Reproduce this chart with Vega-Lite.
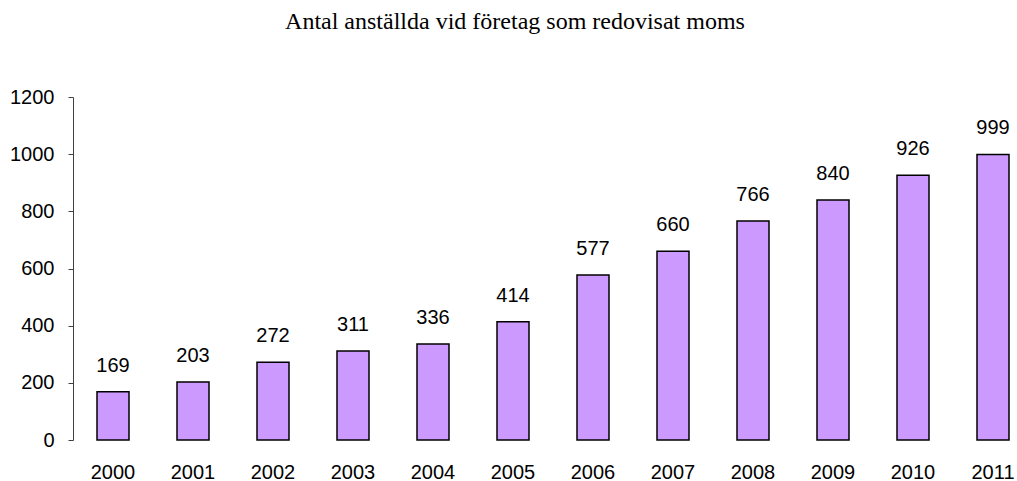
{
  "$schema": "https://vega.github.io/schema/vega-lite/v6.json",
  "width": 944,
  "height": 343,
  "autosize": {"type": "none"},
  "padding": {"left": 73, "top": 97, "right": 0, "bottom": 41},
  "background": "white",
  "config": {"view": {"stroke": null}},
  "title": {
    "text": "Antal anställda vid företag som redovisat moms",
    "font": "Liberation Serif",
    "fontSize": 24,
    "fontWeight": "normal",
    "color": "black",
    "anchor": "middle",
    "baseline": "alphabetic",
    "limit": 0,
    "dx": -30,
    "offset": 34
  },
  "data": {
    "values": [
      {"year": "2000", "value": 169},
      {"year": "2001", "value": 203},
      {"year": "2002", "value": 272},
      {"year": "2003", "value": 311},
      {"year": "2004", "value": 336},
      {"year": "2005", "value": 414},
      {"year": "2006", "value": 577},
      {"year": "2007", "value": 660},
      {"year": "2008", "value": 766},
      {"year": "2009", "value": 840},
      {"year": "2010", "value": 926},
      {"year": "2011", "value": 999}
    ]
  },
  "encoding": {
    "x": {
      "field": "year",
      "type": "ordinal",
      "scale": {"paddingInner": 0.6, "paddingOuter": 0.2, "align": 0.75},
      "axis": {
        "title": null,
        "domain": false,
        "ticks": false,
        "labelAngle": 0,
        "labelFont": "Liberation Sans",
        "labelFontSize": 20,
        "labelColor": "black",
        "labelPadding": 22
      }
    },
    "y": {
      "field": "value",
      "type": "quantitative",
      "scale": {"domain": [0, 1200], "nice": false},
      "axis": {
        "title": null,
        "values": [0, 200, 400, 600, 800, 1000, 1200],
        "format": "d",
        "grid": false,
        "domainColor": "#404040",
        "tickColor": "#404040",
        "tickSize": 5,
        "labelFont": "Liberation Sans",
        "labelFontSize": 20,
        "labelColor": "black",
        "labelPadding": 14
      }
    }
  },
  "layer": [
    {
      "mark": {"type": "bar", "color": "#CC99FF", "stroke": "black", "strokeWidth": 1.5}
    },
    {
      "mark": {"type": "text", "baseline": "alphabetic", "dy": -20, "font": "Liberation Sans", "fontSize": 20, "color": "black"},
      "encoding": {"text": {"field": "value", "type": "quantitative"}}
    }
  ]
}
